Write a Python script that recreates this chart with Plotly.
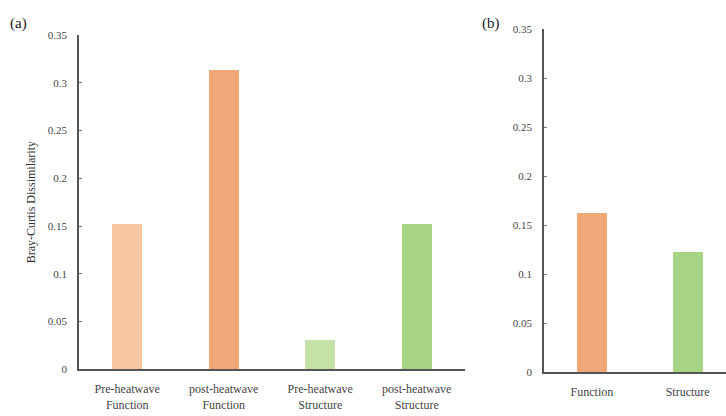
import plotly.graph_objects as go

# Panel (a): dissimilarity before/after the heatwave
cats_a = ["Pre-heatwave<br>Function", "post-heatwave<br>Function",
          "Pre-heatwave<br>Structure", "post-heatwave<br>Structure"]
vals_a = [0.152, 0.313, 0.030, 0.152]
colors_a = ["#F8C5A1", "#F0A878", "#C7E2A9", "#A8D385"]

# Panel (b): change in dissimilarity
cats_b = ["Function", "Structure"]
vals_b = [0.162, 0.122]
colors_b = ["#F0A878", "#A7D384"]

y_ticks = [0, 0.05, 0.1, 0.15, 0.2, 0.25, 0.3, 0.35]
y_tick_text = ["0", "0.05", "0.1", "0.15", "0.2", "0.25", "0.3", "0.35"]

W, H = 726, 416
font_family = "Liberation Serif, Times New Roman, DejaVu Serif, serif"

fig = go.Figure()
fig.add_trace(go.Bar(x=cats_a, y=vals_a, marker=dict(color=colors_a, line=dict(width=0)),
                     width=0.31, xaxis="x", yaxis="y", showlegend=False))
fig.add_trace(go.Bar(x=cats_b, y=vals_b, marker=dict(color=colors_b, line=dict(width=0)),
                     width=0.31, xaxis="x2", yaxis="y2", showlegend=False))

axis_common = dict(showline=True, linecolor="#555", linewidth=1.5, showgrid=False,
                   zeroline=False)
yaxis_common = dict(axis_common, range=[0, 0.35], tickvals=y_ticks, ticktext=y_tick_text,
                    ticks="inside", ticklen=3, tickcolor="#777", ticklabelstandoff=8,
                    tickfont=dict(family=font_family, size=11, color="#444"))
xaxis_common = dict(axis_common, ticks="", ticklabelstandoff=8,
                    tickfont=dict(family=font_family, size=12, color="#444"))

fig.update_layout(
    width=W, height=H,
    margin=dict(l=0, r=0, t=0, b=0),
    paper_bgcolor="white", plot_bgcolor="white",
    font=dict(family=font_family, color="#333"),
    xaxis=dict(xaxis_common, domain=[79 / W, 465 / W], range=[-0.5, 3.5], anchor="y"),
    yaxis=dict(yaxis_common, domain=[1 - 374 / H, 1 - 30 / H], anchor="x",
               title=dict(text="Bray-Curtis Dissimilarity", standoff=10,
                          font=dict(family=font_family, size=12, color="#333"))),
    xaxis2=dict(xaxis_common, domain=[544 / W, 1.0], range=[-0.5, 1.4], anchor="y2"),
    yaxis2=dict(yaxis_common, domain=[1 - 377 / H, 1 - 24 / H], anchor="x2"),
    annotations=[
        dict(text="(a)", x=8 / W, y=1 - 18 / H, xref="paper", yref="paper",
             xanchor="left", yanchor="middle", showarrow=False,
             font=dict(family=font_family, size=15, color="#222")),
        dict(text="(b)", x=480 / W, y=1 - 18 / H, xref="paper", yref="paper",
             xanchor="left", yanchor="middle", showarrow=False,
             font=dict(family=font_family, size=15, color="#222")),
    ],
    bargap=0,
)

fig.write_html("out.html")
